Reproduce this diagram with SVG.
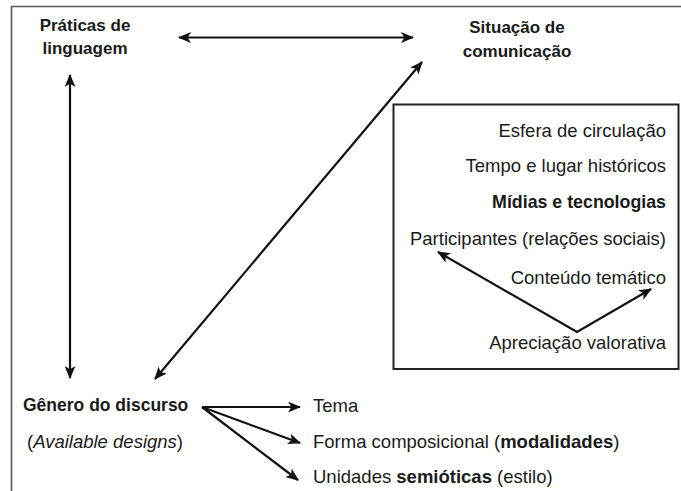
<svg xmlns="http://www.w3.org/2000/svg" width="681" height="491" viewBox="0 0 681 491">
<defs>
<style>
text{font-family:"Liberation Sans",Arial,sans-serif;fill:#1a1a1a}
.h{font-weight:bold;font-size:17px}
.t{font-size:18.5px}
.b{font-weight:bold}
.c{stroke:#111;stroke-width:2.2;fill:none}
.frame{stroke:#555;stroke-width:1.6;fill:none}
</style>
<marker id="ah" viewBox="0 0 12 10" refX="11" refY="5" markerWidth="13" markerHeight="11" markerUnits="userSpaceOnUse" orient="auto-start-reverse">
<path d="M0,0 L12,5 L0,10 L3,5 z" fill="#111"/>
</marker>
</defs>
<rect width="681" height="491" fill="#fff"/>
<path class="frame" d="M11.5,500 V6.5 H690"/>

<g id="praticas">
<text class="h" x="85" y="31" text-anchor="middle">Práticas de</text>
<text class="h" x="85" y="54" text-anchor="middle">linguagem</text>
</g>
<g id="situacao">
<text class="h" x="517" y="33" text-anchor="middle">Situação de</text>
<text class="h" x="517" y="57" text-anchor="middle">comunicação</text>
</g>
<g id="box">
<rect x="393.5" y="104.5" width="285" height="264.5" fill="none" stroke="#222" stroke-width="2"/>
<text class="t" x="666" y="137" text-anchor="end">Esfera de circulação</text>
<text class="t" x="666" y="172" text-anchor="end">Tempo e lugar históricos</text>
<text class="t b" x="666" y="208" text-anchor="end" style="font-size:17.8px">Mídias e tecnologias</text>
<text class="t" x="666" y="245" text-anchor="end">Participantes (relações sociais)</text>
<text class="t" x="666" y="284" text-anchor="end">Conteúdo temático</text>
<text class="t" x="666" y="349" text-anchor="end">Apreciação valorativa</text>
</g>
<g id="genero">
<text class="h" x="23" y="411" style="font-size:17.5px">Gênero do discurso</text>
<text class="t" x="27" y="448">(<tspan font-style="italic">Available designs</tspan>)</text>
</g>
<g id="tema"><text class="t" x="313" y="412">Tema</text></g>
<g id="forma"><text class="t" x="313" y="448">Forma composicional (<tspan class="b">modalidades</tspan>)</text></g>
<g id="unidades"><text class="t" x="313" y="483">Unidades <tspan class="b">semióticas</tspan> (estilo)</text></g>

<g id="connectors">
<line class="c" x1="179" y1="37.5" x2="413" y2="37.5" marker-start="url(#ah)" marker-end="url(#ah)" stroke-width="2.6"/>
<line class="c" x1="70" y1="75" x2="70" y2="378" marker-start="url(#ah)" marker-end="url(#ah)"/>
<line class="c" x1="155" y1="379" x2="422" y2="62" marker-start="url(#ah)" marker-end="url(#ah)"/>
<polyline class="c" points="438,252 577,332 651,289" marker-start="url(#ah)" marker-end="url(#ah)"/>
<line class="c" x1="202" y1="407" x2="300" y2="407" marker-end="url(#ah)"/>
<line class="c" x1="202" y1="407" x2="300" y2="443" marker-end="url(#ah)"/>
<line class="c" x1="202" y1="407" x2="298" y2="480" marker-end="url(#ah)"/>
</g>
</svg>
